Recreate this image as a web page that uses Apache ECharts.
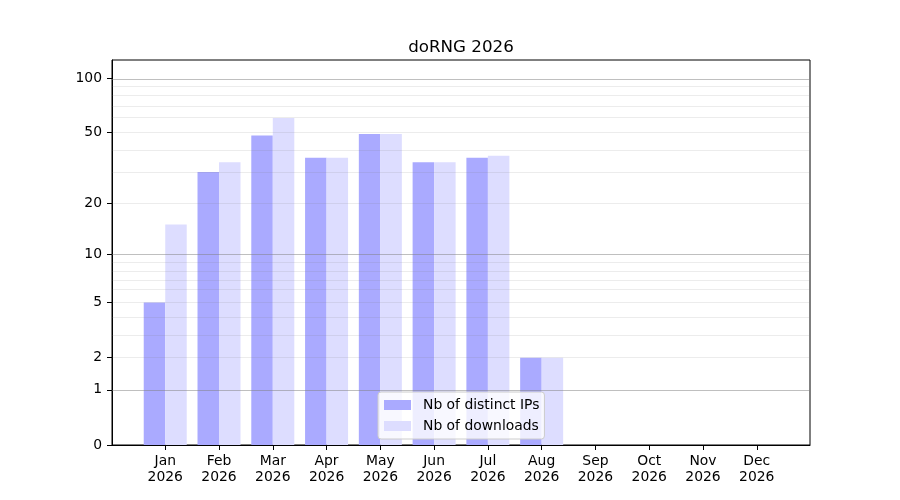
<!DOCTYPE html>
<html>
<head>
<meta charset="utf-8">
<script src="https://cdn.jsdelivr.net/npm/echarts@6/dist/echarts.min.js"></script>
<style>
  html, body { margin: 0; padding: 0; background: #fff; }
  #chart { width: 900px; height: 500px; }
</style>
</head>
<body>
<div id="chart"></div>
<script>
// 数据：每月独立 IP 数与下载次数
const months = ['Jan', 'Feb', 'Mar', 'Apr', 'May', 'Jun', 'Jul', 'Aug', 'Sep', 'Oct', 'Nov', 'Dec'];
const year = '2026';
const distinctIPs = [5, 30, 48, 36, 49, 34, 36, 2, 0, 0, 0, 0];
const downloads = [15, 34, 60, 36, 49, 34, 37, 2, 0, 0, 0, 0];

// y 轴刻度（symlog 风格）
const yTickLabels = [0, 1, 2, 5, 10, 20, 50, 100];
const majorGrid = [1, 10, 100];
const minorGrid = [2, 3, 4, 5, 6, 7, 8, 9, 20, 30, 40, 50, 60, 70, 80, 90];

// 坐标变换：log10(1 + v)
const tf = v => Math.log10(1 + v);
const font = 'DejaVu Sans';

const chart = echarts.init(document.getElementById('chart'));

const gridLines = [
  ...minorGrid.map(v => ({ yAxis: tf(v), lineStyle: { color: 'rgba(128,128,128,0.15)', width: 1, type: 'solid' } })),
  ...majorGrid.map(v => ({ yAxis: tf(v), lineStyle: { color: 'rgba(128,128,128,0.5)', width: 1, type: 'solid' } }))
];

const option = {
  animation: false,
  backgroundColor: '#fff',
  textStyle: { fontFamily: font },
  title: {
    text: 'doRNG ' + year,
    left: 456,
    top: 34,
    textAlign: 'center',
    textStyle: { fontFamily: font, fontSize: 16.7, fontWeight: 'normal', color: '#000' }
  },
  grid: {
    left: 112, top: 60, width: 698, height: 385,
    show: true, borderColor: '#000', borderWidth: 1, backgroundColor: 'transparent'
  },
  legend: {
    orient: 'vertical',
    left: 378,
    top: 392,
    padding: [5, 5, 5, 6],
    itemGap: 5,
    itemWidth: 27,
    itemHeight: 10,
    icon: 'rect',
    backgroundColor: 'rgba(255,255,255,0.8)',
    borderColor: '#cccccc',
    borderWidth: 1,
    borderRadius: 3,
    textStyle: { fontFamily: font, fontSize: 13.9, color: '#000', padding: [0, 0, 0, 7], lineHeight: 16 },
    z: 10
  },
  xAxis: {
    type: 'value',
    min: -0.99,
    max: 11.99,
    splitLine: { show: false },
    axisLine: { show: true, onZero: false, lineStyle: { color: '#000', width: 1 } },
    axisTick: { show: true, length: 5, customValues: months.map((m, i) => i), lineStyle: { color: '#000' } },
    axisLabel: {
      customValues: months.map((m, i) => i),
      formatter: v => months[Math.round(v)] + '\n' + year,
      fontFamily: font, fontSize: 13.9, color: '#000', lineHeight: 16, margin: 8
    }
  },
  yAxis: {
    type: 'value',
    min: 0,
    max: 2.1027,
    splitLine: { show: false },
    axisLine: { show: true, onZero: false, lineStyle: { color: '#000', width: 1 } },
    axisTick: { show: true, length: 5, customValues: yTickLabels.map(tf), lineStyle: { color: '#000' } },
    axisLabel: {
      customValues: yTickLabels.map(tf),
      formatter: v => String(Math.round(Math.pow(10, v) - 1)),
      fontFamily: font, fontSize: 13.9, color: '#000', margin: 10
    }
  },
  series: [
    {
      name: 'Nb of distinct IPs',
      type: 'bar',
      barWidth: 21.5,
      barGap: '0%',
      itemStyle: { color: '#aaaaff' },
      data: distinctIPs.map((v, i) => [i, tf(v)]),
      markLine: {
        silent: true,
        symbol: 'none',
        label: { show: false },
        z: 5,
        data: gridLines
      }
    },
    {
      name: 'Nb of downloads',
      type: 'bar',
      barWidth: 21.5,
      barGap: '0%',
      itemStyle: { color: '#ddddff' },
      data: downloads.map((v, i) => [i, tf(v)])
    }
  ]
};

chart.setOption(option);
window.addEventListener('resize', () => chart.resize());
</script>
</body>
</html>
